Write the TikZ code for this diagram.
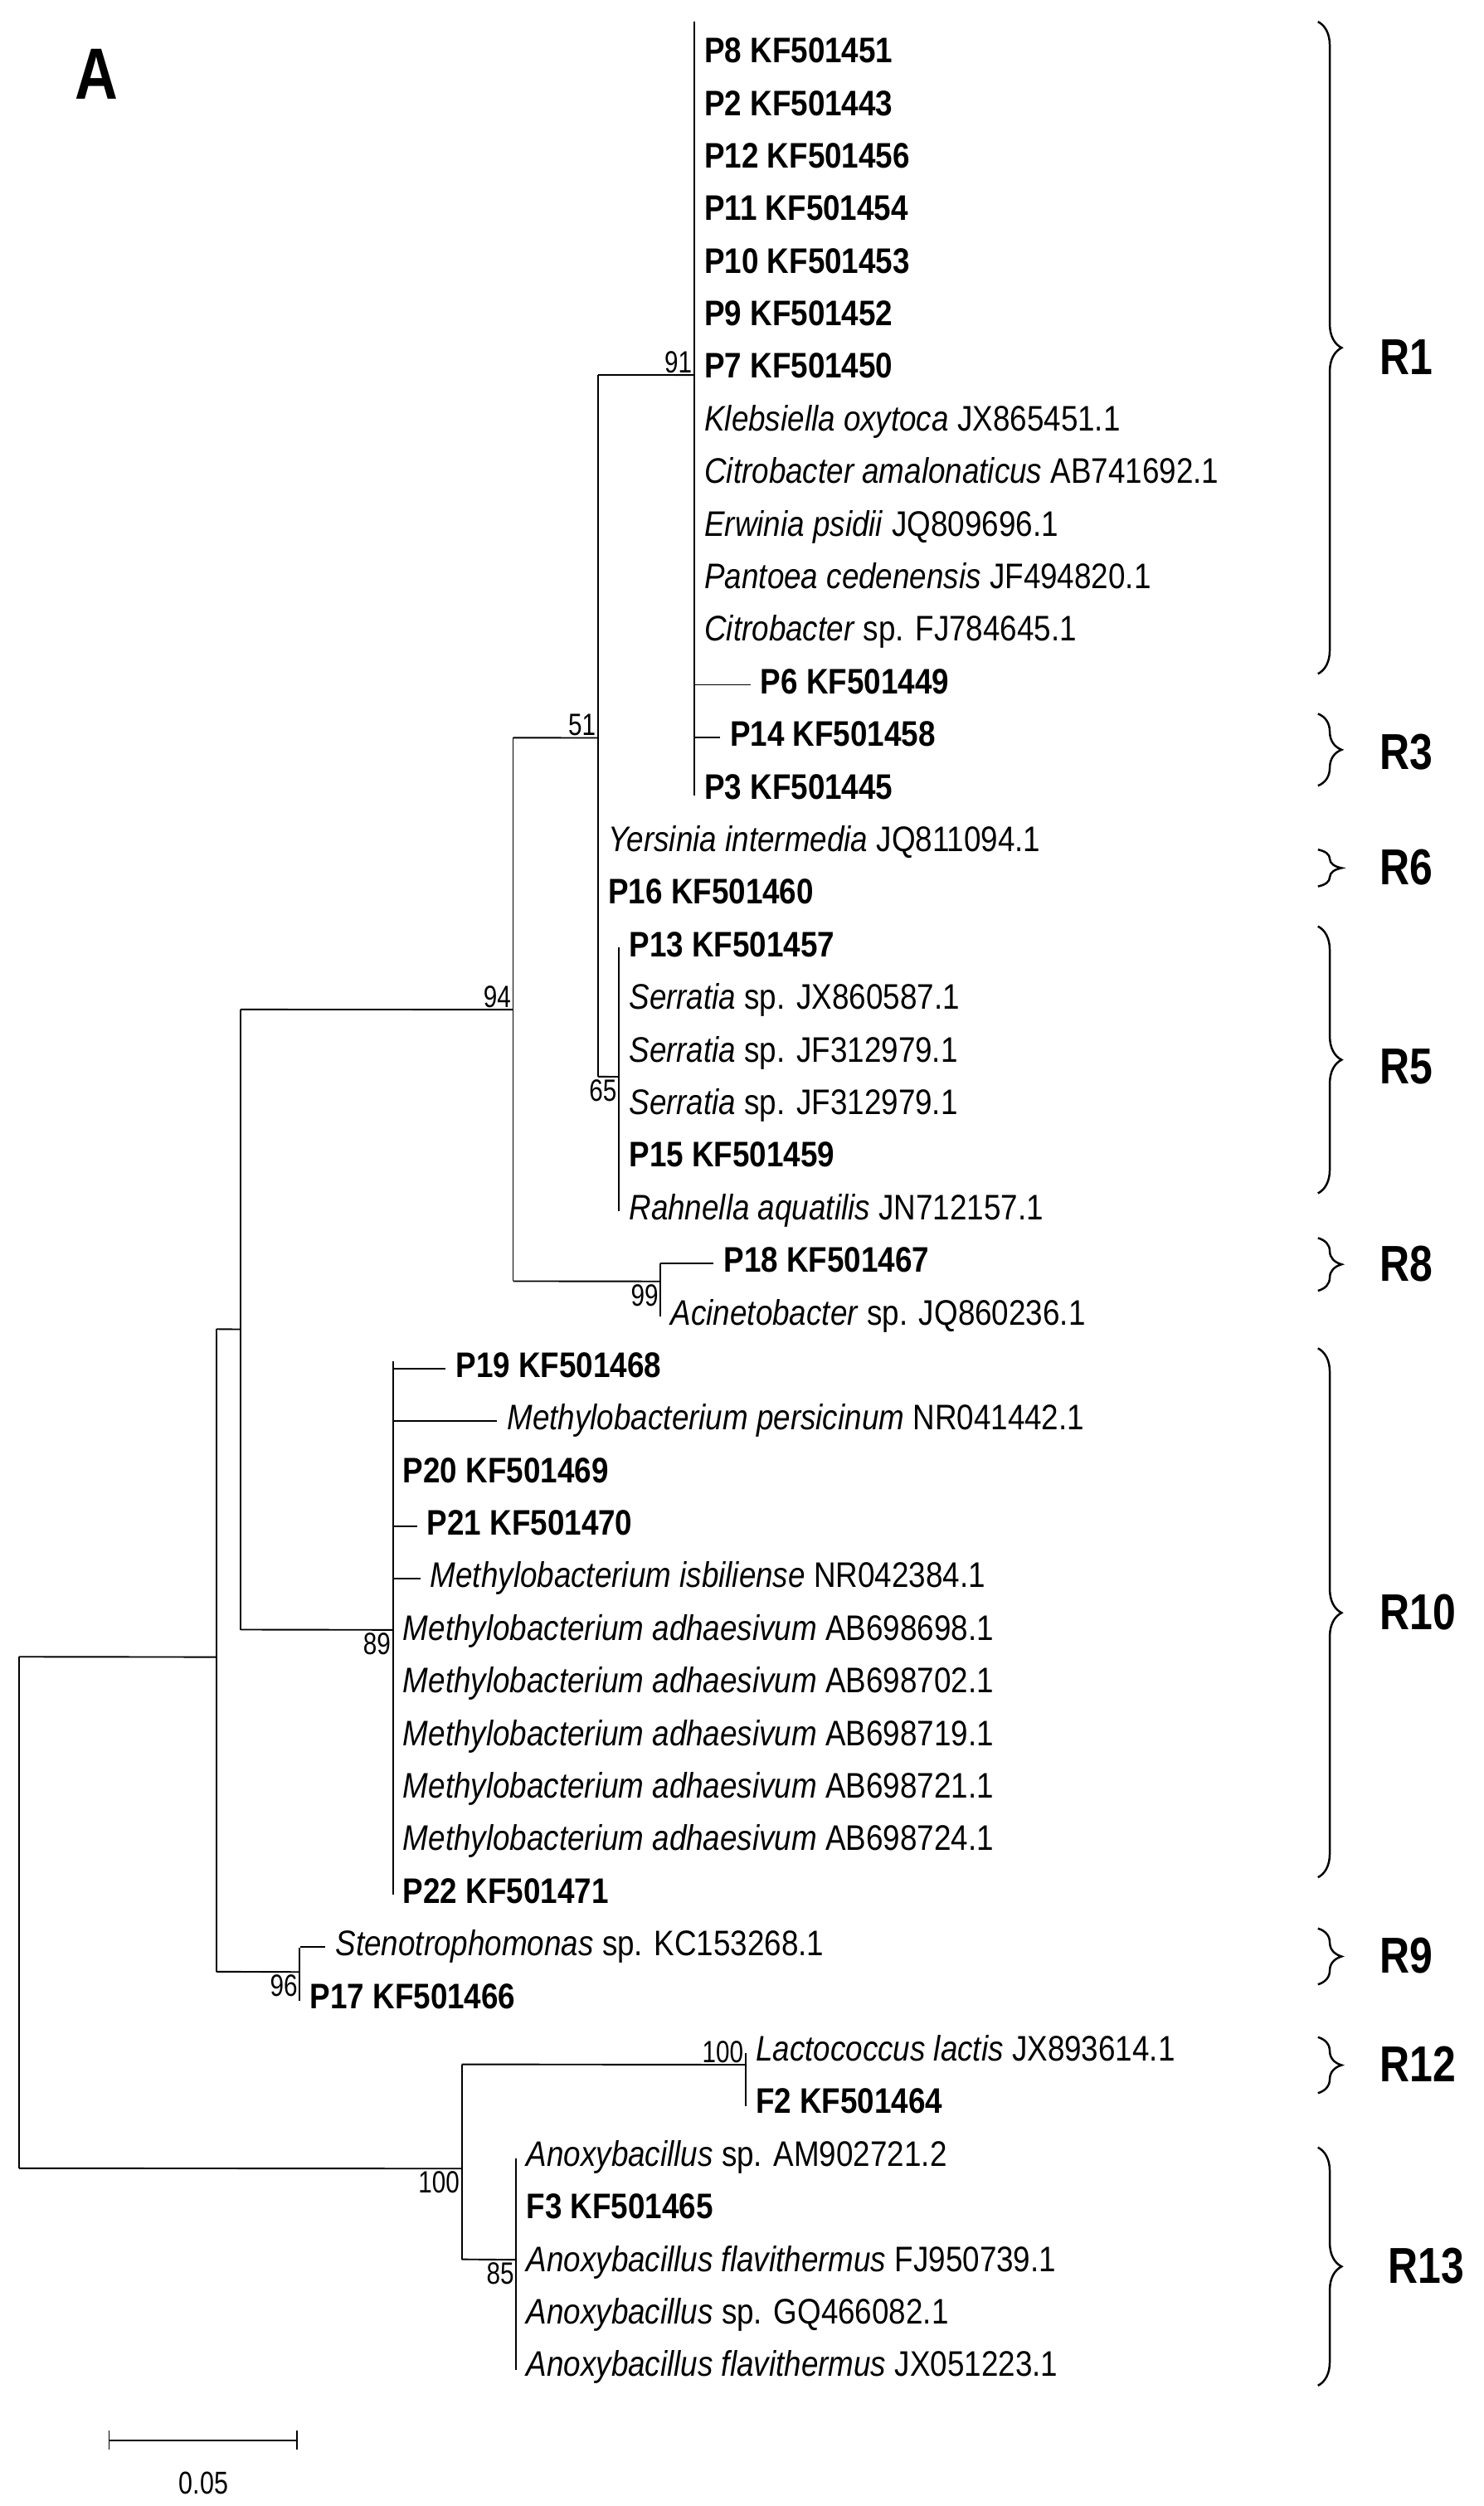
\documentclass[tikz,border=0pt]{standalone}
\usepackage{fontspec}
\setmainfont{Liberation Sans}[FakeStretch=0.86]
\newfontfamily\bsfont{Liberation Sans}[FakeStretch=0.8]
\newfontfamily\rfont{Liberation Sans}[FakeStretch=0.82]
\usetikzlibrary{decorations.pathreplacing}
\begin{document}
\begin{tikzpicture}[x=1pt,y=-1pt,line width=1pt,
  leaf/.style={anchor=west,inner xsep=6pt,inner ysep=0pt,text height=16pt,text depth=4.5pt,font=\fontsize{22.5}{24}\selectfont},
  bs/.style={inner sep=1pt,text height=14pt,text depth=0pt,font=\bsfont\fontsize{19.5}{20}\selectfont},
  bsu/.style={bs,anchor=south east},
  bsd/.style={bs,anchor=north east},
  br/.style={decorate,decoration={brace,amplitude=15pt},line width=1.3pt},
  rl/.style={anchor=west,font=\rfont\fontsize{32}{34}\selectfont\bfseries}]
\useasboundingbox (0,0) rectangle (940,1588);
\begin{scope}[shift={(0,1.6)},yscale=1.0128,xscale=1.016]
\node[font=\rfont\fontsize{46}{48}\selectfont\bfseries] (A) at (60,45) {A};
\foreach \r/\nx/\ex/\t in {
1/433/433/\textbf{P8 KF501451},
2/433/433/\textbf{P2 KF501443},
3/433/433/\textbf{P12 KF501456},
4/433/433/\textbf{P11 KF501454},
5/433/433/\textbf{P10 KF501453},
6/433/433/\textbf{P9 KF501452},
7/433/433/\textbf{P7 KF501450},
8/433/433/\textit{Klebsiella oxytoca} JX865451.1,
9/433/433/\textit{Citrobacter amalonaticus} AB741692.1,
10/433/433/\textit{Erwinia psidii} JQ809696.1,
11/433/433/\textit{Pantoea cedenensis} JF494820.1,
12/433/433/\textit{Citrobacter} sp. FJ784645.1,
13/433/468/\textbf{P6 KF501449},
14/433/449/\textbf{P14 KF501458},
15/433/433/\textbf{P3 KF501445},
16/373/373/\textit{Yersinia intermedia} JQ811094.1,
17/373/373/\textbf{P16 KF501460},
18/386/386/\textbf{P13 KF501457},
19/386/386/\textit{Serratia} sp. JX860587.1,
20/386/386/\textit{Serratia} sp. JF312979.1,
21/386/386/\textit{Serratia} sp. JF312979.1,
22/386/386/\textbf{P15 KF501459},
23/386/386/\textit{Rahnella aquatilis} JN712157.1,
24/412/445/\textbf{P18 KF501467},
25/412/412/\textit{Acinetobacter} sp. JQ860236.1,
26/245/278/\textbf{P19 KF501468},
27/245/310/\textit{Methylobacterium persicinum} NR041442.1,
28/245/245/\textbf{P20 KF501469},
29/245/260/\textbf{P21 KF501470},
30/245/262/\textit{Methylobacterium isbiliense} NR042384.1,
31/245/245/\textit{Methylobacterium adhaesivum} AB698698.1,
32/245/245/\textit{Methylobacterium adhaesivum} AB698702.1,
33/245/245/\textit{Methylobacterium adhaesivum} AB698719.1,
34/245/245/\textit{Methylobacterium adhaesivum} AB698721.1,
35/245/245/\textit{Methylobacterium adhaesivum} AB698724.1,
36/245/245/\textbf{P22 KF501471},
37/187/203/\textit{Stenotrophomonas} sp. KC153268.1,
38/187/187/\textbf{P17 KF501466},
39/465/465/\textit{Lactococcus lactis} JX893614.1,
40/465/465/\textbf{F2 KF501464},
41/322/322/\textit{Anoxybacillus} sp. AM902721.2,
42/322/322/\textbf{F3 KF501465},
43/322/322/\textit{Anoxybacillus flavithermus} FJ950739.1,
44/322/322/\textit{Anoxybacillus} sp. GQ466082.1,
45/322/322/\textit{Anoxybacillus flavithermus} JX051223.1}{
  \pgfmathsetmacro\yy{32+(\r-1)*32.9}
  \coordinate (b\r) at (\nx,\yy);
  \node[leaf] (l\r) at (\ex,\yy) {\t};
  \draw (b\r) -- (l\r.west);
}
% internal nodes
\coordinate (n91) at (433,233);
\coordinate (n51) at (373,460);
\coordinate (n65) at (386,672);
\coordinate (n99) at (412,800);
\coordinate (n94) at (320,630);
\coordinate (n89) at (245,1018);
\coordinate (nx) at (150,830);
\coordinate (n96) at (187,1232);
\coordinate (nr) at (135,1035);
\coordinate (n100a) at (465,1290);
\coordinate (n85) at (322,1412);
\coordinate (n100b) at (288,1355);
\draw (433,12) -- (433,496);
\draw (373,233) -- (373,672);
\draw (373,233) -- (n91);
\draw (386,591) -- (386,756);
\draw (373,672) -- (n65);
\draw (320,460) -- (320,800);
\draw (320,460) -- (n51);
\draw (412,789) -- (412,822);
\draw (320,800) -- (n99);
\draw (150,630) -- (150,1018);
\draw (150,630) -- (n94);
\draw (245,850) -- (245,1184);
\draw (150,1018) -- (n89);
\draw (135,830) -- (135,1232);
\draw (135,830) -- (nx);
\draw (187,1217) -- (187,1250);
\draw (135,1232) -- (n96);
\draw (12,1035) -- (12,1355);
\draw (12,1035) -- (nr);
\draw (465,1283) -- (465,1316);
\draw (288,1290) -- (288,1412);
\draw (288,1290) -- (n100a);
\draw (322,1349) -- (322,1481);
\draw (288,1412) -- (n85);
\draw (12,1355) -- (n100b);
% bootstrap
\node[bsu] (s1) at (n91) {91};
\node[bsu] (s2) at (n51) {51};
\node[bsu] (s3) at (n94) {94};
\node[bsd] (s4) at (n65) {65};
\node[bsd] (s5) at (n99) {99};
\node[bsd] (s6) at (n89) {89};
\node[bsd] (s7) at (n96) {96};
\node[bsu] (s8) at (n100a) {100};
\node[bsd] (s9) at (n100b) {100};
\node[bsd] (s10) at (n85) {85};
% brackets
\draw[br] (822,12) -- (822,420); \node[rl] (R1) at (857,222) {R1};
\draw[br] (822,445) -- (822,490); \node[rl] (R3) at (857,469) {R3};
\draw[br] (822,530) -- (822,553); \node[rl] (R6) at (857,541) {R6};
\draw[br] (822,578) -- (822,745); \node[rl] (R5) at (857,666) {R5};
\draw[br] (822,773) -- (822,806); \node[rl] (R8) at (857,789) {R8};
\draw[br] (822,842) -- (822,1173); \node[rl] (R10) at (857,1007) {R10};
\draw[br] (822,1205) -- (822,1240); \node[rl] (R9) at (857,1222) {R9};
\draw[br] (822,1273) -- (822,1308); \node[rl] (R12) at (857,1290) {R12};
\draw[br] (822,1342) -- (822,1491); \node[rl] (R13) at (862,1416) {R13};
% scale
\coordinate (sa) at (68,1525); \coordinate (sb) at (185,1525);
\draw (sa) -- (sb);
\draw ([yshift=-6]sa) -- ([yshift=6]sa);
\draw ([yshift=-6]sb) -- ([yshift=6]sb);
\node[font=\bsfont\fontsize{20}{22}\selectfont] (sl) at (127,1552) {0.05};
\end{scope}
\end{tikzpicture}
\end{document}
